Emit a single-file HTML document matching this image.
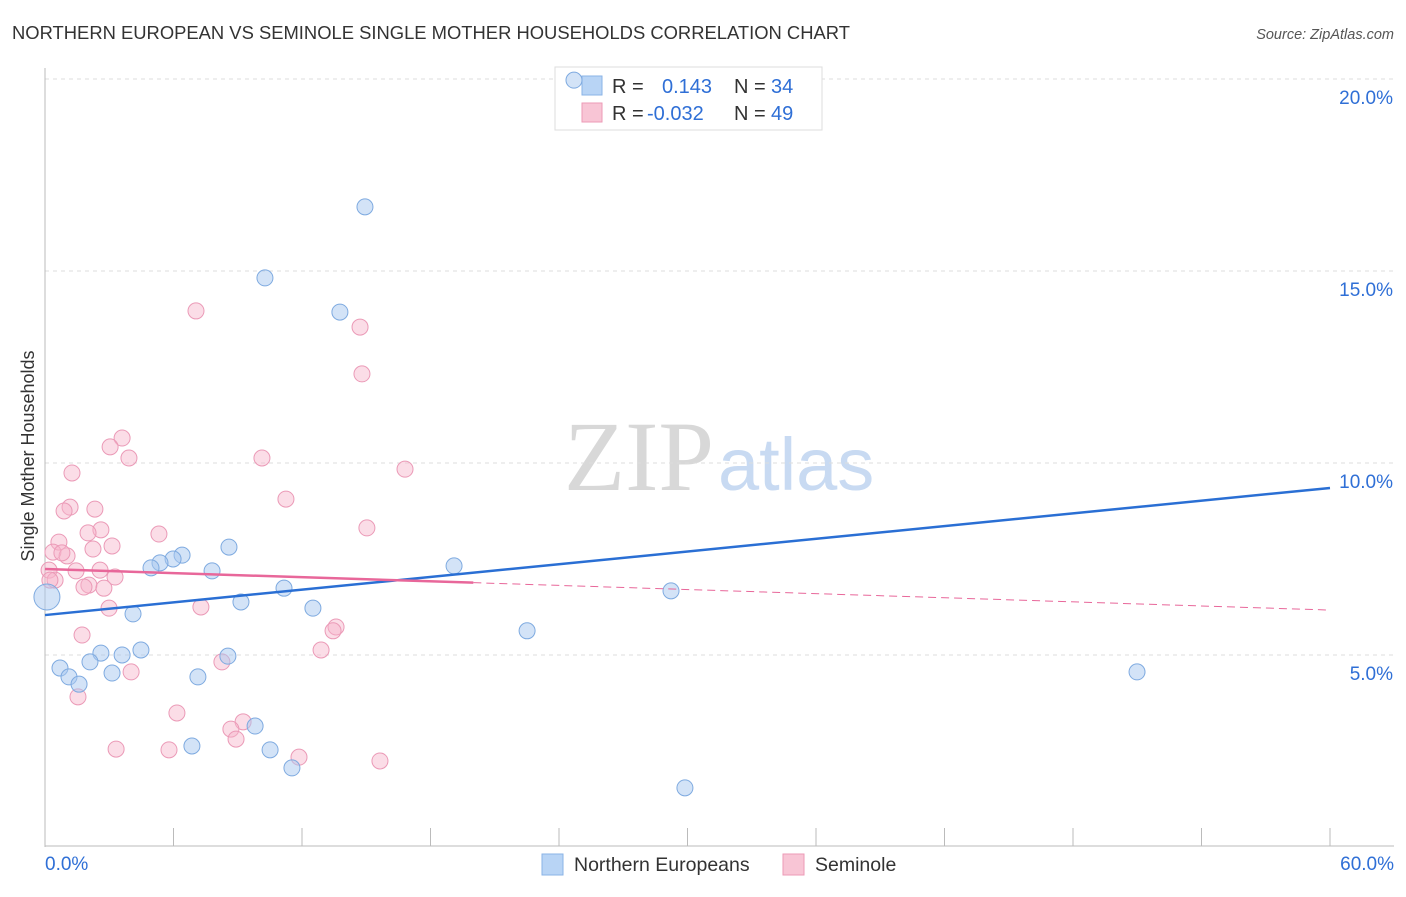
<!DOCTYPE html>
<html><head><meta charset="utf-8"><style>
body{margin:0;background:#fff;font-family:"Liberation Sans",sans-serif;}
</style></head><body>
<svg id="chart" width="1406" height="892" viewBox="0 0 1406 892" font-family="Liberation Sans, sans-serif">
<text x="12" y="39" font-size="18.4" fill="#333">NORTHERN EUROPEAN VS SEMINOLE SINGLE MOTHER HOUSEHOLDS CORRELATION CHART</text>
<text x="1394" y="39" font-size="14.5" fill="#555" text-anchor="end" font-style="italic">Source: ZipAtlas.com</text>
<text x="0" y="0" transform="translate(34,456) rotate(-90)" font-size="18" fill="#333" text-anchor="middle">Single Mother Households</text>
<g>
<text x="714" y="490" font-size="100" fill="#d8d8d8" text-anchor="end" style="font-family:'Liberation Serif',serif">ZIP</text>
<text x="718" y="490" font-size="74" fill="#c8daf2">atlas</text>
</g>
<g id="grid"></g><g id="axes"></g>
<g>
<rect x="555" y="67" width="267" height="63" fill="#fff" stroke="#ddd"/>
<rect x="582" y="76" width="20" height="19" fill="#b8d4f5" stroke="#8ab3e6"/>
<rect x="582" y="103" width="20" height="19" fill="#f8c5d5" stroke="#ec9ab6"/>
<text x="612" y="93" font-size="20" fill="#333">R = </text><text x="662" y="93" font-size="20" fill="#2f6fd6">0.143</text>
<text x="734" y="93" font-size="20" fill="#333">N = </text><text x="771" y="93" font-size="20" fill="#2f6fd6">34</text>
<text x="612" y="120" font-size="20" fill="#333">R = </text><text x="647" y="120" font-size="20" fill="#2f6fd6">-0.032</text>
<text x="734" y="120" font-size="20" fill="#333">N = </text><text x="771" y="120" font-size="20" fill="#2f6fd6">49</text>
</g>
<g id="marks"></g>
<g>
<rect x="542" y="854" width="21" height="21" fill="#b8d4f5" stroke="#8ab3e6"/>
<text x="574" y="871" font-size="19.5" fill="#333">Northern Europeans</text>
<rect x="783" y="854" width="21" height="21" fill="#f8c5d5" stroke="#ec9ab6"/>
<text x="815" y="871" font-size="19.5" fill="#333">Seminole</text>
</g>
</svg>
<script>
const xTicks=[0,6,12,18,24,30,36,42,48,54,60];
const yTicks=[5,10,15,20];
const blueX=[24.70,14.94,10.27,13.77,19.10,29.23,22.51,50.99,29.88,11.53,10.51,6.86,9.81,8.54,7.14,9.15,11.16,12.51,8.59,7.80,6.40,5.98,5.37,4.95,4.11,4.48,3.60,2.61,2.10,3.13,0.70,1.12,1.59,0.09];
const blueY=[19.97,16.67,14.82,13.93,7.32,6.67,5.63,4.56,1.54,2.06,2.53,2.63,3.15,4.97,4.43,6.38,6.74,6.22,7.81,7.19,7.60,7.50,7.40,7.27,6.07,5.13,5.00,5.05,4.82,4.53,4.66,4.43,4.24,6.51];
const pinkX=[7.05,14.71,14.80,3.60,3.04,3.92,10.13,16.81,1.26,11.25,1.17,2.33,0.89,15.03,5.32,2.61,2.01,0.65,3.13,2.24,0.37,1.03,0.79,1.45,2.57,3.27,0.19,0.47,2.05,1.82,2.75,2.99,7.28,13.59,13.45,1.73,12.89,8.26,4.02,1.54,6.16,9.25,8.68,8.92,3.32,5.79,11.86,15.64,0.23];
const pinkY=[13.96,13.54,12.32,10.65,10.42,10.13,10.13,9.84,9.74,9.06,8.85,8.80,8.75,8.31,8.15,8.26,8.18,7.94,7.84,7.76,7.68,7.58,7.66,7.19,7.21,7.03,7.21,6.95,6.82,6.77,6.74,6.22,6.25,5.73,5.63,5.52,5.13,4.82,4.56,3.91,3.49,3.26,3.07,2.81,2.55,2.53,2.34,2.24,6.95];
const blueTrend=[6.04,9.35];
const pinkTrend=[7.24,6.17];
const pinkSolidEnd=20;

const NS="http://www.w3.org/2000/svg";
const sx=v=>45+v/60*1285;
const sy=v=>847-v/5*192;
function mk(parent,tag,attrs){const e=document.createElementNS(NS,tag);for(const k in attrs)e.setAttribute(k,attrs[k]);document.getElementById(parent).appendChild(e);return e;}
yTicks.forEach(t=>{
  const g=mk('grid','line',{x1:45,x2:1394,y1:sy(t),y2:sy(t),stroke:'#ddd','stroke-dasharray':'4,4'});
  
  
  const l=mk('axes','text',{x:1393,y:sy(t)+25,'font-size':19,fill:'#2f6fd6','text-anchor':'end'});
  l.textContent=t.toFixed(1)+'%';
  
  
});
const ya=mk('axes','line',{x1:45,x2:45,y1:68,y2:847,stroke:'#bbb'});


const xa=mk('axes','line',{x1:45,x2:1394,y1:846,y2:846,stroke:'#bbb'});


xTicks.forEach(t=>{
  const tk=mk('axes','line',{x1:sx(t),x2:sx(t),y1:828,y2:846,stroke:'#bbb'});
  
  
});
[[0,'start',45],[60,'end',1394]].forEach(([v,a,x])=>{
  const l=mk('axes','text',{x:x,y:870,'font-size':19,fill:'#2f6fd6','text-anchor':a});
  l.textContent=v.toFixed(1)+'%';
  
  
});
pinkX.forEach((x,i)=>{
  const c=mk('marks','circle',{cx:sx(x),cy:sy(pinkY[i]),r:8,fill:'rgba(246,180,202,0.45)',stroke:'#eb9ab7','stroke-width':1});
  
  
});
blueX.forEach((x,i)=>{
  const r=i===blueX.length-1?13:8;
  const c=mk('marks','circle',{cx:sx(x),cy:sy(blueY[i]),r:r,fill:'rgba(168,200,240,0.5)',stroke:'#7eaae0','stroke-width':1});
  
  
});
const bt=mk('marks','line',{x1:sx(0),y1:sy(blueTrend[0]),x2:sx(60),y2:sy(blueTrend[1]),stroke:'#2a6fd4','stroke-width':2.5});


const pm=pinkTrend[0]+(pinkTrend[1]-pinkTrend[0])*pinkSolidEnd/60;
const ps=mk('marks','line',{x1:sx(0),y1:sy(pinkTrend[0]),x2:sx(pinkSolidEnd),y2:sy(pm),stroke:'#e8679a','stroke-width':2.5});


const pd=mk('marks','line',{x1:sx(pinkSolidEnd),y1:sy(pm),x2:sx(60),y2:sy(pinkTrend[1]),stroke:'#e8679a','stroke-width':1,'stroke-dasharray':'8,5'});


</script>
</body></html>
